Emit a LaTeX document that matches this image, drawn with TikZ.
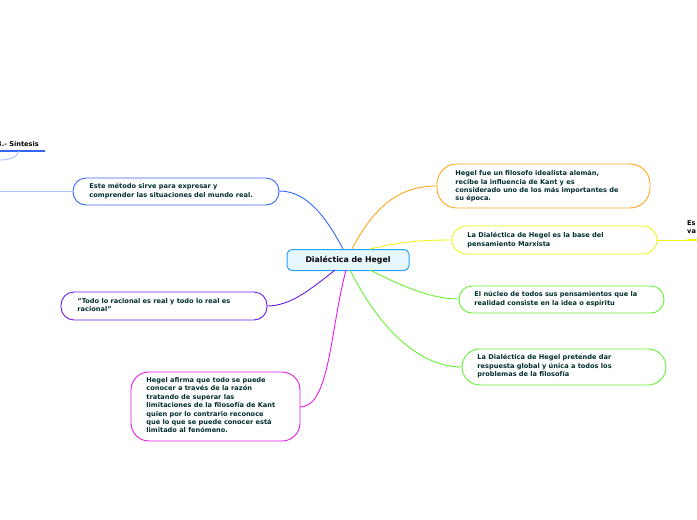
\documentclass[tikz,border=0pt]{standalone}
\usepackage{fontspec}
\setmainfont{DejaVu Sans}
\begin{document}
\begin{tikzpicture}[x=1pt,y=-1pt,
  txt/.style={font=\bfseries\fontsize{6.6}{8.4}\selectfont,text=black!40!teal!60!black},
  box/.style={txt,line width=0.9pt,align=left,anchor=north west,inner sep=0pt},
  con/.style={draw=#1,line width=0.9pt}]
\useasboundingbox (0,0) rectangle (697,520);
\definecolor{cb}{HTML}{3366FF}\definecolor{co}{HTML}{FFA31A}\definecolor{cy}{HTML}{F2F21A}
\definecolor{cg}{HTML}{66F233}\definecolor{cp}{HTML}{6A1AE6}\definecolor{cm}{HTML}{E61AE6}
\node[draw=cb!60!cyan,fill=cyan!10,line width=1pt,rounded corners=5pt,minimum width=122pt,minimum height=21pt,font=\bfseries\fontsize{7.8}{9}\selectfont] (c) at (348,260) {Dialéctica de Hegel};
% boxes
\draw[con=co,rounded corners=20pt] (437,164) rectangle (650,208);
\node[box] (o) at (455,170) {Hegel fue un filosofo idealista alemán,\\recibe la influencia de Kant y es\\considerado uno de los más importantes de\\su época.};
\draw[con=cy,rounded corners=14pt] (452,226) rectangle (657,254);
\node[box] (y) at (467,232) {La Dialéctica de Hegel es la base del\\pensamiento Marxista};
\draw[con=cg,rounded corners=13pt] (459,286) rectangle (664,313);
\node[box] (g1) at (474,291) {El núcleo de todos sus pensamientos que la\\realidad consiste en la idea o espíritu};
\draw[con=cg,rounded corners=18pt] (462,349) rectangle (666,385);
\node[box] (g2) at (477,354) {La Dialéctica de Hegel pretende dar\\respuesta global y única a todos los\\problemas de la filosofía};
\draw[con=cb,rounded corners=13pt] (73,178) rectangle (279,205);
\node[box] (b) at (89,183) {Este método sirve para expresar y\\comprender las situaciones del mundo real.};
\draw[con=cp,rounded corners=13pt] (61,292) rectangle (267,320);
\node[box] (p) at (77,298) {"Todo lo racional es real y todo lo real es\\racional"};
\draw[con=cm,rounded corners=18pt] (131,372) rectangle (300,441);
\node[box] (m) at (146,377) {Hegel afirma que todo se puede\\conocer a través de la razón\\tratando de superar las\\limitaciones de la filosofía de Kant\\quien por lo contrario reconoce\\que lo que se puede conocer está\\limitado al fenómeno.};
% connectors
\draw[con=co] (352,249) .. controls (375,205) and (400,186) .. (437,186);
\draw[con=cy] (370,249) .. controls (400,242) and (420,240) .. (452,240);
\draw[con=cg] (370,270) .. controls (400,285) and (430,299) .. (459,299);
\draw[con=cg] (350,270) .. controls (380,330) and (420,367) .. (462,367);
\draw[con=cb] (343,249) .. controls (320,205) and (300,191) .. (279,191);
\draw[con=cp] (335,270) .. controls (310,290) and (290,306) .. (267,306);
\draw[con=cm] (346,270) .. controls (330,330) and (330,407) .. (300,407);
% partial nodes
\node[txt,text=black,anchor=west,inner sep=0pt] (s) at (-3,144) {3.- Síntesis};
\draw[con=cb,line width=1.5pt] (0,151) -- (45,151);
\draw[con=cb!40] (19,151) .. controls (17,158) and (8,160) .. (0,160);
\draw[con=cb!40] (0,191) -- (73,191);
\node[txt,text=black,anchor=north west,inner sep=0pt,align=left] (e) at (687,220) {Es\\va};
\draw[con=cy] (657,240) -- (697,240);
\draw[con=cy,line width=1.5pt] (687,240) -- (697,240);
\end{tikzpicture}
\end{document}
